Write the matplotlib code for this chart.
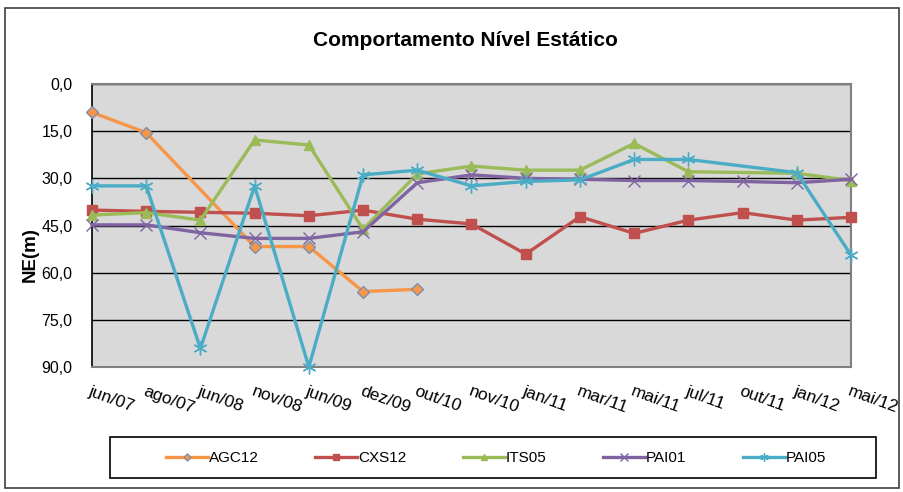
import numpy as np
import matplotlib
matplotlib.use("Agg")
import matplotlib.pyplot as plt
from matplotlib.patches import Rectangle

plt.rcParams['font.family'] = ['Liberation Sans', 'DejaVu Sans']

categories = ["jun/07", "ago/07", "jun/08", "nov/08", "jun/09", "dez/09", "out/10",
              "nov/10", "jan/11", "mar/11", "mai/11", "jul/11", "out/11", "jan/12", "mai/12"]
nan = np.nan
AGC12 = [9.0, 15.5, nan, 51.7, 51.7, 66.0, 65.3, nan, nan, nan, nan, nan, nan, nan, nan]
CXS12 = [40.1, 40.5, 40.8, 41.1, 41.9, 40.1, 43.0, 44.5, 54.1, 42.2, 47.5, 43.3, 40.9, 43.3, 42.4]
ITS05 = [41.7, 40.9, 43.3, 17.8, 19.4, 46.2, 28.6, 26.1, 27.4, 27.4, 18.9, 27.9, nan, 28.4, 30.7]
PAI01 = [44.8, 44.8, 47.3, 49.1, 49.1, 47.0, 31.4, 28.9, 30.0, 30.3, 30.7, 30.7, 31.0, 31.4, 30.3]
PAI05 = [32.4, 32.4, 84.1, 32.4, 90.0, 28.9, 27.4, 32.4, 31.0, 30.5, 24.0, 24.0, nan, 28.2, 54.4]
yticks = [0, 15, 30, 45, 60, 75, 90]

series = [
    ("AGC12", AGC12, "#F79646", "D", dict(markerfacecolor="#F79646", markeredgecolor="#7F8FB0", markersize=6, markeredgewidth=1)),
    ("CXS12", CXS12, "#C0504D", "s", dict(markerfacecolor="#C0504D", markeredgecolor="#C0504D", markersize=7)),
    ("ITS05", ITS05, "#9BBB59", "^", dict(markerfacecolor="#9BBB59", markeredgecolor="#9BBB59", markersize=7)),
    ("PAI01", PAI01, "#8064A2", "x", dict(markeredgecolor="#8064A2", markersize=9, markeredgewidth=1)),
    ("PAI05", PAI05, "#4BACC6", (6, 2, 0), dict(markeredgecolor="#4BACC6", markersize=10, markeredgewidth=1)),
]

fig = plt.figure(figsize=(9.04, 4.92), dpi=100)
fig.patches.append(Rectangle((5/904, 4/492), 1 - 10/904, 1 - 12/492, transform=fig.transFigure,
                             fill=False, edgecolor="#404040", linewidth=1.2))
ax = fig.add_axes([92/904, 1 - 367/492, (851 - 92)/904, (367 - 84)/492])
ax.set_facecolor("#D9D9D9")

x = np.arange(len(categories))
for name, vals, color, marker, kw in series:
    v = np.array(vals, dtype=float)
    m = ~np.isnan(v)
    ax.plot(x[m], v[m], color=color, linewidth=2.4, marker=marker, label=name,
            clip_on=False, zorder=3, **kw)

ax.set_xlim(0, len(categories) - 1)
ax.set_ylim(90, 0)
ax.set_yticks(yticks)
ax.set_yticklabels([f"{t:.1f}".replace(".", ",") for t in yticks], fontsize=11.5)
ax.yaxis.grid(True, color="black", linewidth=1)
ax.set_axisbelow(True)
ax.tick_params(axis='y', length=0, pad=14)
ax.tick_params(axis='x', length=0, pad=0)
ax.set_xticks(x)
ax.set_xticklabels([])
for i, c in enumerate(categories):
    ax.annotate(c, xy=(i, 90), xycoords='data', xytext=(0, -12), textcoords='offset points',
                rotation=-20, rotation_mode='anchor', ha='left', va='top', fontsize=12.5,
                annotation_clip=False)
for s in ["top", "right", "bottom"]:
    ax.spines[s].set_color("#808080")
    ax.spines[s].set_linewidth(1.5)
ax.spines["left"].set_color("black")
ax.spines["left"].set_linewidth(1.2)

fig.text(465/904, 1 - 40/492, "Comportamento Nível Estático", ha='center', va='center',
         fontsize=15, fontweight='bold')
fig.text(30/904, 1 - 255/492, "NE(m)", rotation=90, ha='center', va='center',
         fontsize=13.5, fontweight='bold')

# legend box
fig.patches.append(Rectangle((110/904, 1 - 478/492), (876 - 110)/904, 41/492, transform=fig.transFigure,
                             fill=False, edgecolor="black", linewidth=1.2))
leg = fig.legend(loc='center', bbox_to_anchor=(496/904, 1 - 458/492),
                 ncol=5, frameon=False, fontsize=11,
                 handlelength=2.75, handletextpad=0.05, columnspacing=3.7, markerscale=0.6)

fig.savefig("out.png", dpi=100)
